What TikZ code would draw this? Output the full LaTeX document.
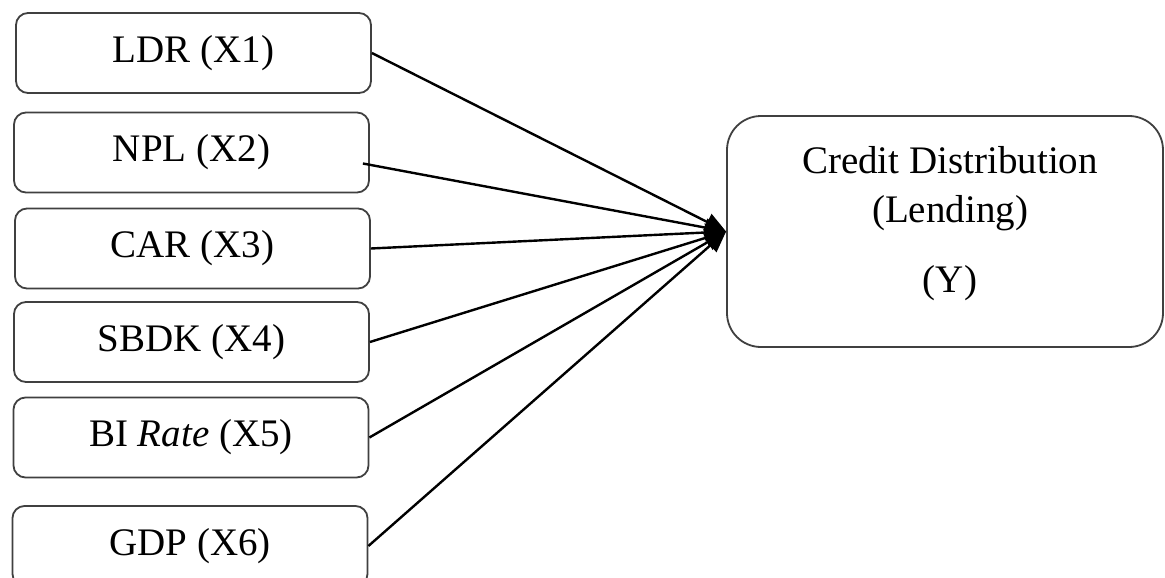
\documentclass[tikz,border=0pt]{standalone}
\usepackage{fontspec}
\setmainfont{Liberation Serif}
\usetikzlibrary{arrows.meta,calc}
\begin{document}
\begin{tikzpicture}[x=1pt,y=-1pt,
  varbox/.style={draw=black!75,line width=1.8pt,rounded corners=12pt,
    minimum width=355pt,minimum height=80pt,inner sep=0pt,
    font=\fontsize{39}{46}\selectfont},
  outbox/.style={draw=black!75,line width=1.8pt,rounded corners=34pt,
    minimum width=436pt,minimum height=231pt,inner sep=0pt},
  ytext/.style={anchor=base,font=\fontsize{39}{46}\selectfont,inner sep=0pt},
  conn/.style={line width=2.4pt,-{Triangle[length=21pt,width=18pt]}}]
\useasboundingbox (0,0) rectangle (1165,578);
\fill[white] (0,0) rectangle (1165,578);
\node[varbox] (x1) at (193.5,53) {LDR (X1)};
\node[varbox] (x2) at (191.5,152.5) {NPL (X2)};
\node[varbox] (x3) at (192.5,248.5) {CAR (X3)};
\node[varbox] (x4) at (191.5,342) {SBDK (X4)};
\node[varbox] (x5) at (191,437.5) {BI \textit{Rate} (X5)};
\node[varbox] (x6) at (190,546) {GDP (X6)};
\node[outbox] (y) at (945,231.5) {};
\node[ytext] (y1) at (950,173) {Credit Distribution};
\node[ytext] (y2) at (950,222) {(Lending)};
\node[ytext] (y3) at (950,292) {(Y)};
\coordinate (t) at (y.west);
\coordinate (s2) at ($(x2.east)+(-7,11)$);
\draw[conn] (x1.east) -- (t);
\draw[conn] (s2) -- (t);
\draw[conn] (x3.east) -- (t);
\draw[conn] (x4.east) -- (t);
\draw[conn] (x5.east) -- (t);
\draw[conn] (x6.east) -- (t);
\end{tikzpicture}
\end{document}
